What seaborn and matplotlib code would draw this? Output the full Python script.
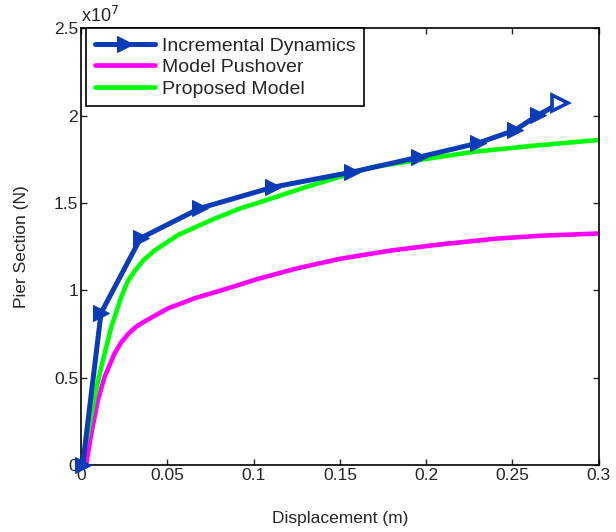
import numpy as np
import pandas as pd
import seaborn as sns
import matplotlib.pyplot as plt

# Incremental dynamics points (force in 1e7 N)
disp_ida = [0.001, 0.0116, 0.0345, 0.0688, 0.1112, 0.1569, 0.1958, 0.2299, 0.2514, 0.2647, 0.2774]
force_ida = [0.0, 0.870, 1.298, 1.469, 1.590, 1.676, 1.762, 1.842, 1.916, 2.002, 2.071]

# Model pushover curve
disp_push = [0, 0.0031, 0.0060, 0.0098, 0.0137, 0.0195, 0.0232, 0.0272, 0.0315, 0.0369, 0.0504, 0.0658,
             0.0851, 0.1025, 0.125, 0.150, 0.180, 0.208, 0.240, 0.266, 0.300]
force_push = [0, 0.01, 0.181, 0.372, 0.505, 0.639, 0.700, 0.748, 0.788, 0.822, 0.896, 0.954,
              1.011, 1.065, 1.125, 1.180, 1.228, 1.262, 1.295, 1.312, 1.325]

# Proposed model curve
disp_prop = [0, 0.0041, 0.0079, 0.0118, 0.0176, 0.0233, 0.0270, 0.0311, 0.0365, 0.0427, 0.0562, 0.0755,
             0.0921, 0.1025, 0.1307, 0.1693, 0.2272, 0.2650, 0.300]
force_prop = [0, 0.181, 0.391, 0.562, 0.791, 0.960, 1.050, 1.110, 1.175, 1.228, 1.316, 1.402,
              1.468, 1.500, 1.592, 1.706, 1.792, 1.830, 1.860]

x_ticks = [0, 0.05, 0.1, 0.15, 0.2, 0.25, 0.3]
y_ticks = [0, 0.5, 1, 1.5, 2, 2.5]

sns.set_style("ticks")
plt.rcParams['font.family'] = ['Liberation Sans', 'DejaVu Sans']
plt.rcParams['xtick.direction'] = 'in'
plt.rcParams['ytick.direction'] = 'in'

fig = plt.figure(figsize=(6.16, 5.32), dpi=100)
ax = fig.add_axes([0.1315, 0.126, 0.8405, 0.821])

blue = '#0a3cb8'
ida = pd.DataFrame({'d': disp_ida, 'f': force_ida})
push = pd.DataFrame({'d': disp_push, 'f': force_push})
prop = pd.DataFrame({'d': disp_prop, 'f': force_prop})

sns.lineplot(data=ida, x='d', y='f', ax=ax, color=blue, lw=3.6, marker='>', markersize=12,
             markeredgecolor=blue, markevery=list(range(len(disp_ida) - 1)),
             sort=False, estimator=None, label='Incremental Dynamics', zorder=3, clip_on=False)
ax.plot(disp_ida[-1:], force_ida[-1:], marker='>', markersize=11, markerfacecolor='white',
        markeredgecolor=blue, markeredgewidth=2.6, ls='none', zorder=4)
sns.lineplot(data=push, x='d', y='f', ax=ax, color='#ff00ff', lw=3.3, sort=False,
             estimator=None, label='Model Pushover', zorder=2)
sns.lineplot(data=prop, x='d', y='f', ax=ax, color='#00ff00', lw=3.3, sort=False,
             estimator=None, label='Proposed Model', zorder=2.5)

ax.set_xlim(0, 0.3)
ax.set_ylim(0, 2.5)
ax.set_xticks(x_ticks)
ax.set_yticks(y_ticks)
ax.set_xticklabels(['%g' % t for t in x_ticks])
ax.set_yticklabels(['%g' % t for t in y_ticks])
ax.tick_params(labelsize=12.5, top=True, right=True, length=4, width=1, pad=2)
for s in ax.spines.values():
    s.set_visible(True)
    s.set_color('black')
    s.set_linewidth(1.2)

ax.set_xlabel('Displacement (m)', fontsize=12.5, labelpad=20)
ax.set_ylabel('Pier Section (N)', fontsize=12.5, labelpad=18)
ax.text(0.0, 1.005, 'x10$^7$', transform=ax.transAxes, fontsize=13, ha='left', va='bottom')

leg = ax.legend(loc='upper left', bbox_to_anchor=(5 / 518, 1.0), fontsize=14, frameon=True,
                fancybox=False, edgecolor='black', borderaxespad=0, handlelength=3.1,
                labelspacing=0.2, borderpad=0.45, handletextpad=0.36)
leg.get_frame().set_linewidth(1.2)
leg.get_frame().set_alpha(1)

fig.savefig('out.png', dpi=100)
